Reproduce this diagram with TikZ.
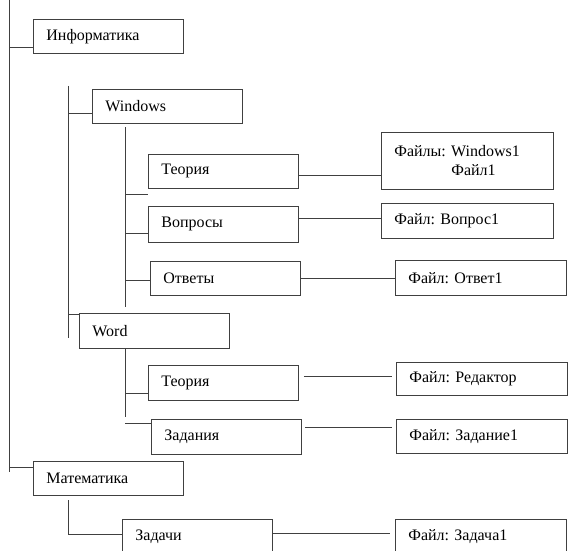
\documentclass[tikz,border=0pt]{standalone}
\usepackage{fontspec}
\setmainfont{Liberation Serif}
\usepackage{tikz}
\frenchspacing

\begin{document}
\begin{tikzpicture}[x=1pt, y=-1pt, every node/.style={font=\fontsize{16}{19}\selectfont}]
        \tikzstyle{box} = [draw=black!75, line width=0.8pt, anchor=north west, align=left, inner xsep=13pt, inner ysep=0pt, text width=124pt, minimum height=34pt]
        \tikzstyle{fbox} = [box, text width=146pt]
        \tikzstyle{ln} = [draw=black!75, line width=0.8pt]
        \useasboundingbox (0,0) rectangle (568,551);
        \clip (0,0) rectangle (568,551);
        \node[box] (inf) at (33,19) {Информатика};
        \node[box] (win) at (92,89) {Windows};
        \node[box] (teo1) at (148,154) {Теория};
        \node[box, minimum height=36pt] (vop) at (148,206) {Вопросы};
        \node[box] (otv) at (150,261) {Ответы};
        \node[box, minimum height=35pt] (word) at (79,313) {Word};
        \node[box, minimum height=35pt] (teo2) at (148,365) {Теория};
        \node[box, minimum height=35pt] (zad) at (151,419) {Задания};
        \node[box] (mat) at (33,461) {Математика};
        \node[box] (zch) at (122,519) {Задачи};
        \node[fbox, minimum height=57pt] (f1) at (381,132) {Файлы: Windows1\\\hspace*{57pt}Файл1};
        \node[fbox, minimum height=35pt] (f2) at (381,203) {Файл: Вопрос1};
        \node[fbox, text width=145pt, minimum height=35pt] (f3) at (395,260) {Файл: Ответ1};
        \node[fbox, text width=145pt, minimum height=33pt] (f4) at (396,362) {Файл: Редактор};
        \node[fbox, text width=145pt] (f5) at (396,419) {Файл: Задание1};
        \node[fbox, text width=145pt] (f6) at (395,519) {Файл: Задача1};
        \foreach \x/\ya/\yb [count=\i] in {9/0/472, 68/86/338, 125/127/307, 125/348/417} {
                \coordinate (s\i) at (\x,\ya);
                \coordinate (e\i) at (\x,\yb);
                \draw[ln] (s\i) -- (e\i);
        }
        \foreach \x/\y/\n in {9/47/inf, 9/467/mat, 68/113/win, 68/314/word, 125/194/teo1, 125/233/vop, 125/280/otv, 125/393/teo2, 125/423/zad} {
                \coordinate (k) at (\x,\y);
                \draw[ln] (k) -- (k -| \n.west);
        }
        \coordinate (m0) at (68,500);
        \coordinate (m1) at (68,534);
        \draw[ln] (m0) -- (m1) -- (m1 -| zch.west);
        \draw[ln] ([yshift=-4pt]teo1.east) -- ([yshift=-4pt]teo1.east -| f1.west);
        \draw[ln] ([yshift=3pt]f2.west -| vop.east) -- ([yshift=3pt]f2.west);
        \draw[ln] (otv.east) -- (otv.east -| f3.west);
        \draw[ln, shorten <=5pt, shorten >=4pt] ([yshift=3pt]f4.west -| teo2.east) -- ([yshift=3pt]f4.west);
        \draw[ln, shorten <=3pt, shorten >=4pt] ([yshift=9pt]f5.west -| zad.east) -- ([yshift=9pt]f5.west);
        \draw[ln, shorten >=5pt] ([yshift=3pt]zch.east) -- ([yshift=3pt]zch.east -| f6.west);
\end{tikzpicture}
\end{document}
